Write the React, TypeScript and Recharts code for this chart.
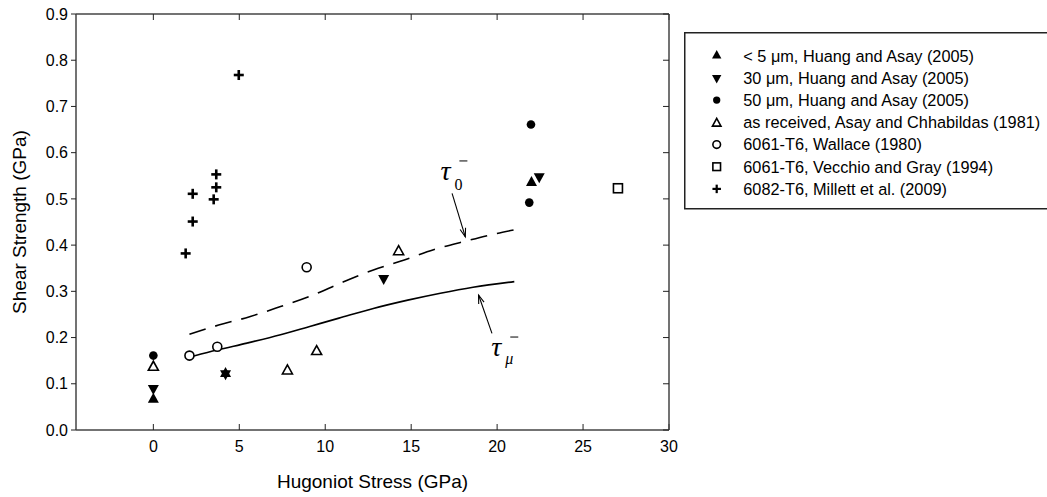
import { ComposedChart, Scatter, Line, XAxis, YAxis, ReferenceLine, ReferenceDot } from "recharts"

const FONT = "'Liberation Sans', Arial, Helvetica, sans-serif"
const SERIF = "'Liberation Serif', 'Times New Roman', serif"

// Hugoniot stress (GPa) vs shear strength (GPa)
const huang5um = [
  { x: 0, y: 0.066 },
  { x: 4.2, y: 0.122 },
  { x: 22.0, y: 0.535 },
]
const huang30um = [
  { x: 0, y: 0.09 },
  { x: 4.2, y: 0.122 },
  { x: 13.4, y: 0.328 },
  { x: 22.45, y: 0.548 },
]
const huang50um = [
  { x: 0, y: 0.161 },
  { x: 21.97, y: 0.661 },
  { x: 21.87, y: 0.492 },
]
const asayReceived = [
  { x: 0, y: 0.139 },
  { x: 7.8, y: 0.131 },
  { x: 9.5, y: 0.173 },
  { x: 14.27, y: 0.389 },
]
const wallace = [
  { x: 2.1, y: 0.161 },
  { x: 3.72, y: 0.18 },
  { x: 8.92, y: 0.352 },
]
const vecchio = [{ x: 27.03, y: 0.523 }]
const millett = [
  { x: 1.88, y: 0.382 },
  { x: 2.29, y: 0.451 },
  { x: 2.29, y: 0.511 },
  { x: 3.51, y: 0.499 },
  { x: 3.66, y: 0.525 },
  { x: 3.66, y: 0.553 },
  { x: 4.97, y: 0.768 },
]

// model curves
const tau0 = [
  { x: 2.1, y: 0.207 },
  { x: 3.8, y: 0.227 },
  { x: 5.6, y: 0.245 },
  { x: 7.4, y: 0.267 },
  { x: 9.1, y: 0.289 },
  { x: 10.9, y: 0.318 },
  { x: 12.0, y: 0.335 },
  { x: 12.8, y: 0.346 },
  { x: 14.6, y: 0.368 },
  { x: 16.3, y: 0.39 },
  { x: 18.1, y: 0.408 },
  { x: 19.6, y: 0.422 },
  { x: 21.0, y: 0.433 },
]
const tauMu = [
  { x: 2.35, y: 0.16 },
  { x: 3.7, y: 0.173 },
  { x: 5.45, y: 0.188 },
  { x: 7.4, y: 0.206 },
  { x: 9.1, y: 0.224 },
  { x: 10.8, y: 0.242 },
  { x: 12.8, y: 0.263 },
  { x: 14.8, y: 0.281 },
  { x: 16.7, y: 0.296 },
  { x: 18.6, y: 0.309 },
  { x: 21.0, y: 0.321 },
]

const xTicks = [0, 5, 10, 15, 20, 25, 30]
const yTicks = [0, 0.1, 0.2, 0.3, 0.4, 0.5, 0.6, 0.7, 0.8, 0.9]

type Kind = "triUp" | "triDown" | "dot" | "triOpen" | "circleOpen" | "squareOpen" | "plus"

const series: { name: string; data: { x: number; y: number }[]; kind: Kind }[] = [
  { name: "< 5 μm, Huang and Asay (2005)", data: huang5um, kind: "triUp" },
  { name: "30 μm, Huang and Asay (2005)", data: huang30um, kind: "triDown" },
  { name: "50 μm, Huang and Asay (2005)", data: huang50um, kind: "dot" },
  { name: "as received, Asay and Chhabildas (1981)", data: asayReceived, kind: "triOpen" },
  { name: "6061-T6, Wallace (1980)", data: wallace, kind: "circleOpen" },
  { name: "6061-T6, Vecchio and Gray (1994)", data: vecchio, kind: "squareOpen" },
  { name: "6082-T6, Millett et al. (2009)", data: millett, kind: "plus" },
]

function Marker({ kind, cx, cy, s = 1 }: { kind: Kind; cx: number; cy: number; s?: number }) {
  const w = 11 * s
  const h = 10 * s
  switch (kind) {
    case "triUp":
      return (
        <polygon
          points={`${cx},${cy - (2 * h) / 3} ${cx - w / 2},${cy + h / 3} ${cx + w / 2},${cy + h / 3}`}
          fill="#000"
        />
      )
    case "triDown":
      return (
        <polygon
          points={`${cx},${cy + (2 * h) / 3} ${cx - w / 2},${cy - h / 3} ${cx + w / 2},${cy - h / 3}`}
          fill="#000"
        />
      )
    case "dot":
      return <circle cx={cx} cy={cy} r={4.3 * s} fill="#000" />
    case "triOpen": {
      const tw = 10 * s
      const th = 9 * s
      return (
        <polygon
          points={`${cx},${cy - th / 2} ${cx - tw / 2},${cy + th / 2} ${cx + tw / 2},${cy + th / 2}`}
          fill="#fff"
          stroke="#000"
          strokeWidth={1.6}
        />
      )
    }
    case "circleOpen":
      return <circle cx={cx} cy={cy} r={4.5 * s} fill="#fff" stroke="#000" strokeWidth={1.6} />
    case "squareOpen":
      return (
        <rect x={cx - 4.5 * s} y={cy - 4.5 * s} width={9 * s} height={9 * s} fill="#fff" stroke="#000" strokeWidth={1.6} />
      )
    case "plus":
      return (
        <g fill="#000">
          <rect x={cx - 5 * s} y={cy - 1.3 * s} width={10 * s} height={2.6 * s} />
          <rect x={cx - 1.3 * s} y={cy - 5 * s} width={2.6 * s} height={10 * s} />
        </g>
      )
  }
  return null
}

// straight arrow with an open head at (x2, y2)
function Arrow(props: any) {
  const { x1, y1, x2, y2 } = props
  const a = Math.atan2(y2 - y1, x2 - x1)
  const len = 9
  const spread = 0.32
  const hx1 = x2 - len * Math.cos(a - spread)
  const hy1 = y2 - len * Math.sin(a - spread)
  const hx2 = x2 - len * Math.cos(a + spread)
  const hy2 = y2 - len * Math.sin(a + spread)
  return (
    <g stroke="#000" strokeWidth={1.1} fill="none">
      <line x1={x1} y1={y1} x2={x2} y2={y2} />
      <polyline points={`${hx1},${hy1} ${x2},${y2} ${hx2},${hy2}`} />
    </g>
  )
}

function TauLabel({ cx, cy, sub, italicSub }: { cx: number; cy: number; sub: string; italicSub?: boolean }) {
  return (
    <g fill="#000" fontFamily={SERIF}>
      <text x={cx} y={cy} fontSize={28} fontStyle="italic">
        τ
      </text>
      <text x={cx + 14} y={cy + (italicSub ? 8 : 10)} fontSize={16} fontStyle={italicSub ? "italic" : "normal"}>
        {sub}
      </text>
      <line x1={cx + 19} y1={cy - 19} x2={cx + 27} y2={cy - 19} stroke="#000" strokeWidth={1} />
    </g>
  )
}

const noLabel = () => <g />

function LegendBox() {
  return (
    <svg
      width={380}
      height={178}
      style={{ position: "absolute", left: 684, top: 32, overflow: "visible" }}
    >
      <rect x={0.75} y={0.75} width={390} height={176} fill="#fff" stroke="#222" strokeWidth={1.5} />
      {series.map((s, i) => {
        const cy = 23.7 + i * 22.2
        return (
          <g key={s.name}>
            <Marker kind={s.kind} cx={32.7} cy={cy} s={0.85} />
            <text x={59.3} y={cy} dy="0.36em" fontSize={16.3} fontFamily={FONT} fill="#000">
              {s.name}
            </text>
          </g>
        )
      })}
    </svg>
  )
}

export default function App() {
  const axisLine = { stroke: "#444", strokeWidth: 1.5 }
  const tickLine = { stroke: "#222", strokeWidth: 1 }
  const tickStyle = { fill: "#000", fontSize: 16, fontFamily: FONT }

  return (
    <div
      style={{
        position: "absolute",
        left: 0,
        top: 0,
        width: 1047,
        height: 497,
        overflow: "hidden",
        background: "#fff",
      }}
    >
      <ComposedChart width={1047} height={497} margin={{ top: 14, right: 378, bottom: 0, left: 0 }}>
        {/* bottom axis: labels and title */}
        <XAxis
          type="number"
          dataKey="x"
          domain={[-4.5, 30]}
          ticks={xTicks}
          allowDataOverflow
          height={67}
          axisLine={axisLine}
          tickLine={false}
          tickSize={6}
          tickMargin={5}
          tick={tickStyle}
          label={{
            content: (p: any) => {
              const vb = p.viewBox
              return (
                <text x={vb.x + vb.width / 2} y={vb.y + 58} textAnchor="middle" fontSize={19} fontFamily={FONT} fill="#000">
                  Hugoniot Stress (GPa)
                </text>
              )
            },
          }}
        />
        {/* inward tick marks on the bottom, top and right frame */}
        <XAxis
          xAxisId="bottomTicks"
          orientation="bottom"
          mirror
          type="number"
          dataKey="x"
          domain={[-4.5, 30]}
          ticks={xTicks}
          allowDataOverflow
          height={20}
          axisLine={false}
          tickLine={tickLine}
          tickSize={6}
          tick={noLabel}
        />
        <XAxis
          xAxisId="top"
          orientation="top"
          mirror
          type="number"
          dataKey="x"
          domain={[-4.5, 30]}
          ticks={xTicks}
          allowDataOverflow
          height={20}
          axisLine={axisLine}
          tickLine={tickLine}
          tickSize={6}
          tick={noLabel}
        />
        <YAxis
          type="number"
          domain={[0, 0.9]}
          ticks={yTicks}
          allowDataOverflow
          width={76}
          axisLine={axisLine}
          tickLine={tickLine}
          tickSize={5}
          tickMargin={3}
          tick={tickStyle}
          tickFormatter={(v: number) => v.toFixed(1)}
          label={{
            content: (p: any) => {
              const vb = p.viewBox
              const x = 25.5
              const y = vb.y + vb.height / 2
              return (
                <text
                  x={x}
                  y={y}
                  transform={`rotate(-90 ${x} ${y})`}
                  textAnchor="middle"
                  fontSize={19}
                  fontFamily={FONT}
                  fill="#000"
                >
                  Shear Strength (GPa)
                </text>
              )
            },
          }}
        />
        <YAxis
          yAxisId="right"
          orientation="right"
          mirror
          type="number"
          domain={[0, 0.9]}
          ticks={yTicks}
          allowDataOverflow
          width={20}
          axisLine={axisLine}
          tickLine={tickLine}
          tickSize={6}
          tick={noLabel}
        />

        <Line
          data={tau0}
          dataKey="y"
          type="monotone"
          stroke="#000"
          strokeWidth={1.6}
          strokeDasharray="17 10"
          dot={false}
          activeDot={false}
          legendType="none"
          isAnimationActive={false}
        />
        <Line
          data={tauMu}
          dataKey="y"
          type="monotone"
          stroke="#000"
          strokeWidth={1.6}
          dot={false}
          activeDot={false}
          legendType="none"
          isAnimationActive={false}
        />

        {series.map((s) => (
          <Scatter
            key={s.name}
            name={s.name}
            data={s.data}
            dataKey="y"
            isAnimationActive={false}
            shape={(p: any) => <Marker kind={s.kind} cx={p.cx} cy={p.cy} />}
          />
        ))}

        <ReferenceLine segment={[{ x: 17.38, y: 0.512 }, { x: 18.15, y: 0.418 }]} shape={Arrow} />
        <ReferenceLine segment={[{ x: 19.7, y: 0.209 }, { x: 18.92, y: 0.292 }]} shape={Arrow} />
        <ReferenceDot
          x={16.7}
          y={0.541}
          r={1}
          shape={(p: any) => <TauLabel cx={p.cx} cy={p.cy} sub="0" />}
        />
        <ReferenceDot
          x={19.66}
          y={0.16}
          r={1}
          shape={(p: any) => <TauLabel cx={p.cx} cy={p.cy} sub="μ" italicSub />}
        />
      </ComposedChart>
      <LegendBox />
    </div>
  )
}
